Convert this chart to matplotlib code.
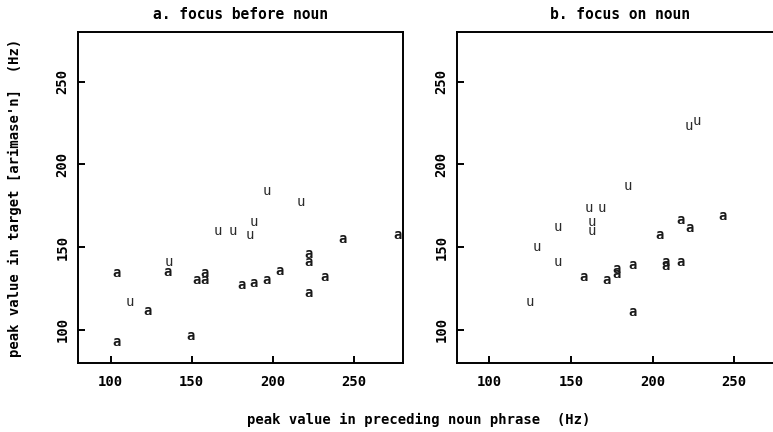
#!/usr/bin/python
# -*- coding: utf-8 -*-
"""
Description: peak values in target vs preceding noun phrase
"""
import numpy as np
import matplotlib
matplotlib.use('Agg')
import matplotlib.pyplot as plt

#---------------------FONT and other graphics------------------------
matplotlib.rc('font', family='DejaVu Sans Mono', size=10, weight='bold')
matplotlib.rc('axes', linewidth=1.4, titleweight='bold', labelweight='bold')
matplotlib.rc('xtick', direction='in')
matplotlib.rc('ytick', direction='in')
matplotlib.rc('xtick.major', width=1.4, size=5)
matplotlib.rc('ytick.major', width=1.4, size=5)

#---------------------DATA------------------------
# panel a: focus before noun
a_left_x = [104, 104, 123, 135, 149, 153, 158, 158, 181, 188, 196, 204,
            222, 222, 222, 232, 243, 277]
a_left_y = [134.5, 92.5, 111.5, 135, 96.5, 130, 130, 134.5, 127, 128.5, 130, 135.5,
            146, 141, 122.5, 132, 155, 157]
u_left_x = [112, 136, 166, 175.5, 185.5, 188.5, 196.5, 217]
u_left_y = [116.5, 141, 160, 160, 157, 165, 184, 177]

# panel b: focus on noun
a_right_x = [157.5, 172, 178, 178, 188, 188, 204, 208, 208, 217, 217, 222.5, 243]
a_right_y = [132, 130, 137, 133.5, 139, 111, 157, 141, 138.5, 141, 166.5, 161.5, 168.5]
u_right_x = [125, 129, 142, 142, 161, 169, 163, 163, 185, 222, 227]
u_right_y = [117, 150, 162, 141, 173.5, 173.5, 165, 159.5, 187, 223, 226]

titles = ['a. focus before noun', 'b. focus on noun']
ticks = [100, 150, 200, 250]

#------------Figure Layout--------------
fig = plt.figure(figsize=(7.73, 4.32), dpi=100)
ax1 = fig.add_axes([0.101, 0.160, 0.420, 0.766])
ax2 = fig.add_axes([0.591, 0.160, 0.422, 0.766])

panels = [(ax1, a_left_x, a_left_y, u_left_x, u_left_y),
          (ax2, a_right_x, a_right_y, u_right_x, u_right_y)]

for i, (ax, ax_, ay_, ux_, uy_) in enumerate(panels):
    ax.set_xlim(80, 280)
    ax.set_ylim(80, 280)
    ax.set_xticks(ticks)
    ax.set_yticks(ticks)
    ax.tick_params(axis='x', pad=9, labelsize=10)
    ax.tick_params(axis='y', pad=6, labelsize=10)
    for lab in ax.get_yticklabels():
        lab.set_rotation(90)
        lab.set_va('center')
    ax.set_title(titles[i], fontsize=10.5, pad=9)

    #PLOT
    for x, y in zip(ax_, ay_):
        ax.text(x, y, 'a', ha='center', va='center', fontsize=10,
                fontweight='bold', color='#1a1a1a')
    for x, y in zip(ux_, uy_):
        ax.text(x, y, 'u', ha='center', va='center', fontsize=10,
                fontweight='normal', color='#2a2a2a')

ax1.set_ylabel("peak value in target [arimase'n]  (Hz)", fontsize=10, labelpad=24)
fig.text(0.542, 0.028, 'peak value in preceding noun phrase  (Hz)',
         ha='center', va='center', fontsize=10)

#SAVING
fig.savefig('out.png', dpi=100)
